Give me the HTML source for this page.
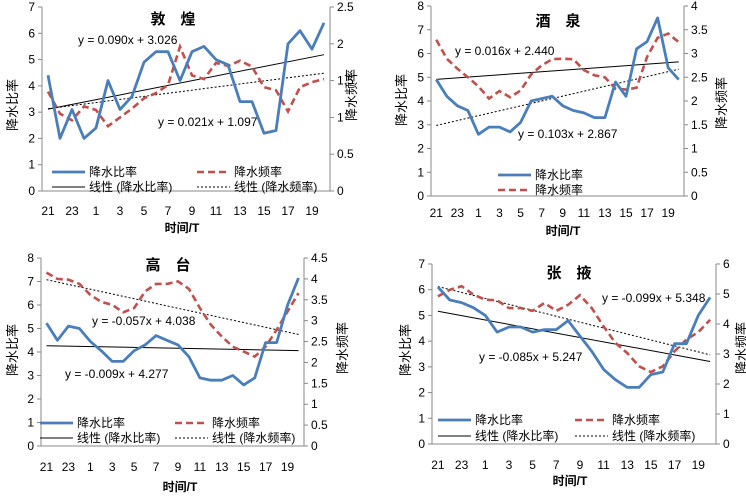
<!DOCTYPE html>
<html><head><meta charset="utf-8"><style>
body{margin:0;background:#fff;width:746px;height:498px;overflow:hidden}
svg{display:block}
text{font-family:"Liberation Sans","Noto Sans CJK SC",sans-serif;fill:#000}
</style></head><body>
<svg id="c" width="746" height="498"></svg>
<script>
const categories=[21,22,23,0,1,2,3,4,5,6,7,8,9,10,11,12,13,14,15,16,17,18,19,20];
const dhRatio=[4.4,2.0,3.1,2.0,2.4,4.2,3.1,3.6,4.9,5.3,5.3,4.2,5.3,5.5,5.0,4.8,3.4,3.4,2.2,2.3,5.6,6.1,5.4,6.4];
const dhFreq=[1.35,1.05,0.96,1.15,1.1,0.88,1.0,1.12,1.26,1.33,1.44,1.96,1.57,1.52,1.74,1.7,1.77,1.69,1.41,1.37,1.08,1.41,1.48,1.52];
const jqRatio=[4.9,4.2,3.8,3.6,2.6,2.9,2.9,2.7,3.1,4.0,4.1,4.2,3.8,3.6,3.5,3.3,3.3,4.8,4.2,6.2,6.5,7.5,5.4,4.9];
const jqFreq=[3.29,2.89,2.68,2.5,2.31,2.05,2.21,2.08,2.22,2.56,2.75,2.88,2.89,2.88,2.65,2.54,2.5,2.26,2.24,2.28,2.93,3.33,3.42,3.24];
const gtRatio=[5.23,4.5,5.1,5.0,4.45,4.05,3.6,3.6,4.05,4.3,4.7,4.5,4.3,3.8,2.9,2.8,2.8,3.0,2.6,2.9,4.4,4.4,6.0,7.15];
const gtFreq=[4.15,4.0,3.98,3.88,3.62,3.45,3.38,3.2,3.3,3.7,3.88,3.88,3.94,3.76,3.3,2.9,2.62,2.38,2.26,2.14,2.38,2.78,3.22,3.66];
const zyRatio=[6.1,5.6,5.5,5.3,5.0,4.35,4.55,4.55,4.35,4.45,4.45,4.8,4.2,3.6,2.9,2.5,2.2,2.2,2.7,2.8,3.9,3.9,5.0,5.7];
const zyFreq=[4.92,5.14,5.26,4.98,4.81,4.79,4.53,4.53,4.44,4.7,4.44,4.64,4.96,4.53,3.92,3.37,3.03,2.59,2.4,2.59,3.09,3.48,3.73,4.14];
const dhTrend=[[0.090,3.026,'L'],[0.021,1.097,'R']];
const jqTrend=[[0.016,2.440,'R'],[0.103,2.867,'L']];
const gtTrend=[[-0.009,4.277,'L'],[-0.057,4.038,'R']];
const zyTrend=[[-0.085,5.247,'L'],[-0.099,5.348,'R']];

const NS='http://www.w3.org/2000/svg';
const svg=document.getElementById('c');
function el(t,a,p){const e=document.createElementNS(NS,t);for(const k in a)e.setAttribute(k,a[k]);(p||svg).appendChild(e);return e;}
function txt(s,a,p){const e=el('text',a,p);e.textContent=s;return e;}

const panels=[
 {id:'dunhuang',title:'敦　煌',x0:42,x1:330,yTop:7,yBot:191,lMax:7,lStep:1,rMax:2.5,rStep:0.5,ratio:dhRatio,freq:dhFreq,trend:dhTrend,
  eq:[['y = 0.090x + 3.026',78,44],['y = 0.021x + 1.097',158,126]],titleXY:[173,24],
  leg:{x:52,x2:197,y1:172,y2:187,full:true},xTickY:215,xTitle:[182,232],lLab:[12,105],rLab:[351,95]},
 {id:'jiuquan',title:'酒　泉',x0:431,x1:684,yTop:6,yBot:196,lMax:8,lStep:1,rMax:4,rStep:0.5,ratio:jqRatio,freq:jqFreq,trend:jqTrend,
  eq:[['y = 0.016x + 2.440',455,55],['y = 0.103x + 2.867',518,138]],titleXY:[558,26],
  leg:{x:498,y1:175,y2:190,full:false},xTickY:217,xTitle:[563,235],lLab:[401,100],rLab:[721,103]},
 {id:'gaotai',title:'高　台',x0:41,x1:304,yTop:258,yBot:446,lMax:8,lStep:1,rMax:4.5,rStep:0.5,ratio:gtRatio,freq:gtFreq,trend:gtTrend,
  eq:[['y = -0.057x + 4.038',92,325],['y = -0.009x + 4.277',65,378]],titleXY:[168,270],
  leg:{x:40,x2:175,y1:423,y2:438,full:true},xTickY:471,xTitle:[180,491],lLab:[12,350],rLab:[342,348]},
 {id:'zhangye',title:'张　掖',x0:432,x1:716,yTop:264,yBot:444,lMax:7,lStep:1,rMax:6,rStep:1,ratio:zyRatio,freq:zyFreq,trend:zyTrend,
  eq:[['y = -0.099x + 5.348',602,302],['y = -0.085x + 5.247',479,361]],titleXY:[569,278],
  leg:{x:438,x2:575,y1:420,y2:436,full:true},xTickY:469,xTitle:[570,485],lLab:[405,350],rLab:[741,348]}
];

panels.forEach(P=>{
  const g=el('g',{});
  
  
  const n=categories.length, bw=(P.x1-P.x0)/n;
  const xs=i=>P.x0+bw*(i+0.5);
  const yl=v=>P.yBot-(v/P.lMax)*(P.yBot-P.yTop);
  const yr=v=>P.yBot-(v/P.rMax)*(P.yBot-P.yTop);
  el('line',{x1:P.x0,y1:P.yTop,x2:P.x0,y2:P.yBot,stroke:'#888','stroke-width':1},g);
  el('line',{x1:P.x1,y1:P.yTop,x2:P.x1,y2:P.yBot,stroke:'#888','stroke-width':1},g);
  el('line',{x1:P.x0,y1:P.yBot,x2:P.x1,y2:P.yBot,stroke:'#888','stroke-width':1},g);
  for(let v=0;v<=P.lMax+1e-9;v+=P.lStep){
    el('line',{x1:P.x0-4,y1:yl(v),x2:P.x0,y2:yl(v),stroke:'#888'},g);
    const t=txt(String(+v.toFixed(1)),{x:P.x0-7,y:yl(v)+4,'font-size':12,'text-anchor':'end'},g);
    
    
  }
  for(let v=0;v<=P.rMax+1e-9;v+=P.rStep){
    el('line',{x1:P.x1,y1:yr(v),x2:P.x1+4,y2:yr(v),stroke:'#888'},g);
    const t=txt(String(+v.toFixed(1)),{x:P.x1+7,y:yr(v)+4,'font-size':12},g);
    
    
  }
  categories.forEach((c,i)=>{
    if(i%2===0){
      const t=txt(String(c),{x:xs(i),y:P.xTickY,'font-size':12,'text-anchor':'middle'},g);
      
      
    }
  });
  P.trend.forEach((tr,k)=>{
    const f=tr[2]==='L'?yl:yr;
    const ln=el('line',{x1:xs(0),y1:f(tr[0]*1+tr[1]),x2:xs(n-1),y2:f(tr[0]*n+tr[1]),stroke:'#000','stroke-width':1,'stroke-dasharray':k===1?'2,2':'none'},g);
    
    
  });
  const pts=(arr,f)=>arr.map((v,i)=>xs(i).toFixed(1)+','+f(v).toFixed(1)).join(' ');
  const fr=el('polyline',{points:pts(P.freq,yr),fill:'none',stroke:'#c0504d','stroke-width':2.6,'stroke-dasharray':'7,4'},g);
  
  
  const ra=el('polyline',{points:pts(P.ratio,yl),fill:'none',stroke:'#4a7ebb','stroke-width':2.8,'stroke-linejoin':'round'},g);
  
  
  const ti=txt(P.title,{x:P.titleXY[0],y:P.titleXY[1],'font-size':15,'font-weight':'bold','text-anchor':'middle'},g);
  
  
  P.eq.forEach(e=>{
    const t=txt(e[0],{x:e[1],y:e[2],'font-size':12},g);
    
    
  });
  const xt=txt('时间/T',{x:P.xTitle[0],y:P.xTitle[1],'font-size':12,'font-weight':'bold','text-anchor':'middle'},g);
  
  
  const lt=txt('降水比率',{x:0,y:0,'font-size':13,'text-anchor':'middle',transform:`translate(${P.lLab[0]+5},${P.lLab[1]}) rotate(-90)`},g);
  
  
  const rt=txt('降水频率',{x:0,y:0,'font-size':13,'text-anchor':'middle',transform:`translate(${P.rLab[0]+5},${P.rLab[1]}) rotate(-90)`},g);
  
  
  const L=P.leg;
  const lg=el('g',{},g);
  
  
  const entry=(x,y,style,label,nm)=>{
    const eg=el('g',{},lg);
    
    
    el('line',Object.assign({x1:x,y1:y,x2:x+33,y2:y,fill:'none'},style),eg);
    txt(label,{x:x+37,y:y+4,'font-size':12},eg);
  };
  entry(L.x,L.y1,{stroke:'#4a7ebb','stroke-width':2.8},'降水比率','legend-entry-ratio');
  if(L.full){
    entry(L.x2,L.y1,{stroke:'#c0504d','stroke-width':2.6,'stroke-dasharray':'7,4'},'降水频率','legend-entry-frequency');
    entry(L.x,L.y2,{stroke:'#000','stroke-width':1},'线性 (降水比率)','legend-entry-ratio-trend');
    entry(L.x2,L.y2,{stroke:'#000','stroke-width':1,'stroke-dasharray':'2,2'},'线性 (降水频率)','legend-entry-frequency-trend');
  } else {
    entry(L.x,L.y2,{stroke:'#c0504d','stroke-width':2.6,'stroke-dasharray':'7,4'},'降水频率','legend-entry-frequency');
  }
});
</script>
</body></html>
